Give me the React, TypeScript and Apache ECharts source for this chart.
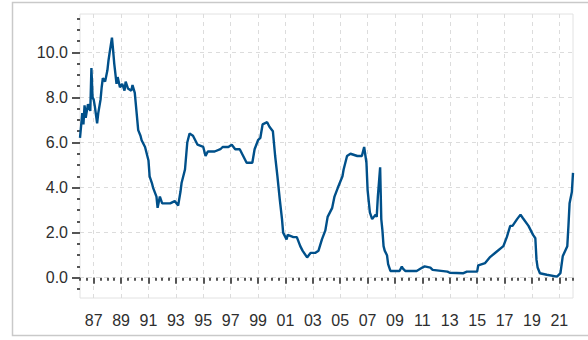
import React, { useEffect, useRef } from "react";
import * as echarts from "echarts";

// Month categories on the x axis (label units), Jan 1986 .. Jan 2022
const startYear = 1986;
const endYear = 2022;
const categories: string[] = [];
for (let y = startYear; y <= endYear; y++) {
  for (let m = 1; m <= 12; m++) {
    if (y === endYear && m > 1) break;
    categories.push(`${y}-${m < 10 ? "0" + m : m}`);
  }
}

// Y axis tick values
const yMajorTicks = [0, 2, 4, 6, 8, 10];
const yMinorTicks = [
  -0.5, 0, 0.5, 1, 1.5, 2, 2.5, 3, 3.5, 4, 4.5, 5, 5.5, 6, 6.5, 7, 7.5, 8, 8.5,
  9, 9.5, 10, 10.5, 11, 11.5,
];

// Series
const dates = [
  "1986-01", "1986-03", "1986-04", "1986-05", "1986-06", "1986-08", "1986-10", "1986-11", "1986-12",
  "1987-01", "1987-02", "1987-04", "1987-05", "1987-07", "1987-08", "1987-09", "1987-11",
  "1988-01", "1988-02", "1988-03", "1988-05", "1988-06", "1988-07", "1988-08", "1988-09", "1988-10", "1988-12",
  "1989-02", "1989-04", "1989-05", "1989-07", "1989-10", "1989-11",
  "1990-01", "1990-03", "1990-04", "1990-06", "1990-07", "1990-10",
  "1991-01", "1991-02", "1991-04", "1991-05", "1991-08", "1991-09", "1991-11",
  "1992-01", "1992-03", "1992-08", "1992-12",
  "1993-03", "1993-05", "1993-06", "1993-09", "1993-11",
  "1994-01", "1994-04", "1994-06", "1994-08",
  "1995-01", "1995-03", "1995-05", "1995-11",
  "1996-04", "1996-06", "1996-11",
  "1997-02", "1997-05", "1997-09", "1997-12",
  "1998-03", "1998-08", "1998-10",
  "1999-01", "1999-03", "1999-05", "1999-09", "1999-11",
  "2000-02", "2000-04", "2000-06", "2000-08", "2000-10", "2000-11",
  "2001-02", "2001-03", "2001-08", "2001-11",
  "2002-02", "2002-04", "2002-08", "2002-11",
  "2003-03", "2003-06", "2003-09", "2003-12",
  "2004-02", "2004-06", "2004-08", "2004-11",
  "2005-03", "2005-04", "2005-07", "2005-10",
  "2006-04", "2006-08", "2006-10", "2006-12",
  "2007-01", "2007-03", "2007-05", "2007-08", "2007-09", "2007-10", "2007-12",
  "2008-01", "2008-02", "2008-03", "2008-04", "2008-06", "2008-07", "2008-09",
  "2009-05", "2009-07", "2009-08", "2009-10",
  "2010-08",
  "2011-01", "2011-03", "2011-08", "2011-10",
  "2012-11", "2013-01",
  "2014-01", "2014-04",
  "2015-01", "2015-02", "2015-08", "2015-12",
  "2016-06", "2016-12",
  "2017-03", "2017-06", "2017-08", "2017-12",
  "2018-03", "2018-05", "2018-10",
  "2019-02", "2019-04", "2019-05", "2019-06", "2019-08",
  "2020-02", "2020-11",
  "2021-02", "2021-04", "2021-08", "2021-09", "2021-10", "2021-12",
  "2022-01",
];

const rates = [
  6.2, 7.3, 6.8, 7.65, 7.1, 7.7, 7.4, 9.3, 8.0,
  7.9, 7.6, 6.85, 7.3, 7.9, 8.45, 8.85, 8.7,
  9.2, 9.65, 10.0, 10.65, 10.1, 9.5, 9.05, 8.6, 8.9, 8.45,
  8.6, 8.3, 8.7, 8.4, 8.3, 8.55,
  8.2, 7.1, 6.55, 6.3, 6.1, 5.8,
  5.2, 4.5, 4.2, 4.0, 3.6, 3.1, 3.6,
  3.3, 3.3, 3.3, 3.4,
  3.2, 3.8, 4.2, 4.8, 6.0,
  6.4, 6.3, 6.1, 5.9,
  5.8, 5.4, 5.6, 5.6,
  5.7, 5.8, 5.8,
  5.9, 5.7, 5.7, 5.4,
  5.1, 5.1, 5.7,
  6.1, 6.2, 6.8, 6.9, 6.7,
  6.5, 5.4, 4.5, 3.5, 2.6, 2.0,
  1.7, 1.9, 1.8, 1.8,
  1.4, 1.2, 0.9, 1.1,
  1.1, 1.2, 1.7, 2.1,
  2.7, 3.1, 3.6, 4.0,
  4.5, 4.8, 5.4, 5.5,
  5.4, 5.4, 5.8, 5.1,
  3.9, 2.9, 2.6, 2.8, 2.7, 3.6, 4.9,
  2.6, 2.1, 1.4, 1.2, 1.0, 0.6, 0.3,
  0.3, 0.5, 0.4, 0.3,
  0.3,
  0.45, 0.5, 0.45, 0.35,
  0.27, 0.22,
  0.2, 0.27,
  0.27, 0.55, 0.65, 0.9,
  1.15, 1.4,
  1.8, 2.3, 2.3, 2.6,
  2.8, 2.65, 2.3,
  1.9, 1.75, 0.8, 0.45, 0.2,
  0.13, 0.05,
  0.2, 0.95, 1.4, 2.3, 3.3, 3.8,
  4.65,
];

const yMin = -0.9;
const yMax = 11.7;

const isOddYearStart = (idx: number) => idx % 24 === 12;

export default function App() {
  const ref = useRef<HTMLDivElement>(null);
  useEffect(() => {
    if (!ref.current) return;
    const chart = echarts.init(ref.current, undefined, { renderer: "svg" });
    const font = "'Liberation Sans', Arial, sans-serif";
    chart.setOption({
      animation: false,
      backgroundColor: "#ffffff",
      graphic: [
        {
          type: "rect",
          shape: { x: 12.5, y: 2.5, width: 600, height: 333 },
          style: { fill: "none", stroke: "#c9c9c9", lineWidth: 1.5 },
          z: -1,
        },
      ],
      grid: {
        left: 80,
        right: 15,
        top: 14,
        bottom: 42,
        show: true,
        borderColor: "#e2e2e2",
        borderWidth: 1,
        backgroundColor: "#ffffff",
      },
      xAxis: [
        {
          type: "category",
          data: categories,
          boundaryGap: false,
          position: "bottom",
          offset: 3,
          axisLine: { show: false },
          axisTick: {
            show: true,
            interval: (i: number) => i % 6 === 0,
            length: 3,
            lineStyle: { color: "#555555", width: 2 },
          },
          axisLabel: {
            show: true,
            interval: (i: number) => isOddYearStart(i),
            formatter: (v: string) => v.slice(2, 4),
            fontFamily: font,
            fontSize: 16,
            color: "#2e2e2e",
            margin: 11,
          },
          splitLine: {
            show: true,
            interval: (i: number) => isOddYearStart(i),
            lineStyle: { color: "#dcdcdc", type: [4, 4], width: 1 },
          },
        },
        {
          type: "category",
          data: categories,
          boundaryGap: false,
          position: "bottom",
          offset: 3,
          axisLine: { show: false },
          axisTick: {
            show: true,
            interval: (i: number) => isOddYearStart(i),
            length: 6,
            lineStyle: { color: "#555555", width: 2 },
          },
          axisLabel: { show: false },
          splitLine: { show: false },
        },
      ],
      yAxis: [
        {
          type: "value",
          min: yMin,
          max: yMax,
          position: "left",
          axisLine: { show: false },
          axisTick: {
            show: true,
            customValues: yMajorTicks,
            length: 8,
            lineStyle: { color: "#555555", width: 2 },
          },
          axisLabel: {
            customValues: yMajorTicks,
            fontFamily: font,
            fontSize: 16,
            color: "#2e2e2e",
            margin: 12,
            formatter: (v: number) => v.toFixed(1),
          },
          splitLine: {
            show: true,
            lineStyle: { color: "#dcdcdc", type: [4, 4], width: 1 },
          },
        },
        {
          type: "value",
          min: yMin,
          max: yMax,
          position: "left",
          axisLine: { show: false },
          axisTick: {
            show: true,
            customValues: yMinorTicks,
            length: 3,
            lineStyle: { color: "#555555", width: 2 },
          },
          axisLabel: { show: false },
          splitLine: { show: false },
        },
      ],
      series: [
        {
          type: "line",
          xAxisIndex: 0,
          yAxisIndex: 0,
          data: dates.map((d, i) => [d, rates[i]]),
          showSymbol: false,
          symbol: "none",
          lineStyle: { color: "#00508a", width: 2.4 },
        },
      ],
    });
    return () => chart.dispose();
  }, []);
  return (
    <div
      ref={ref}
      style={{ position: "absolute", left: 0, top: 0, width: 588, height: 340 }}
    />
  );
}
